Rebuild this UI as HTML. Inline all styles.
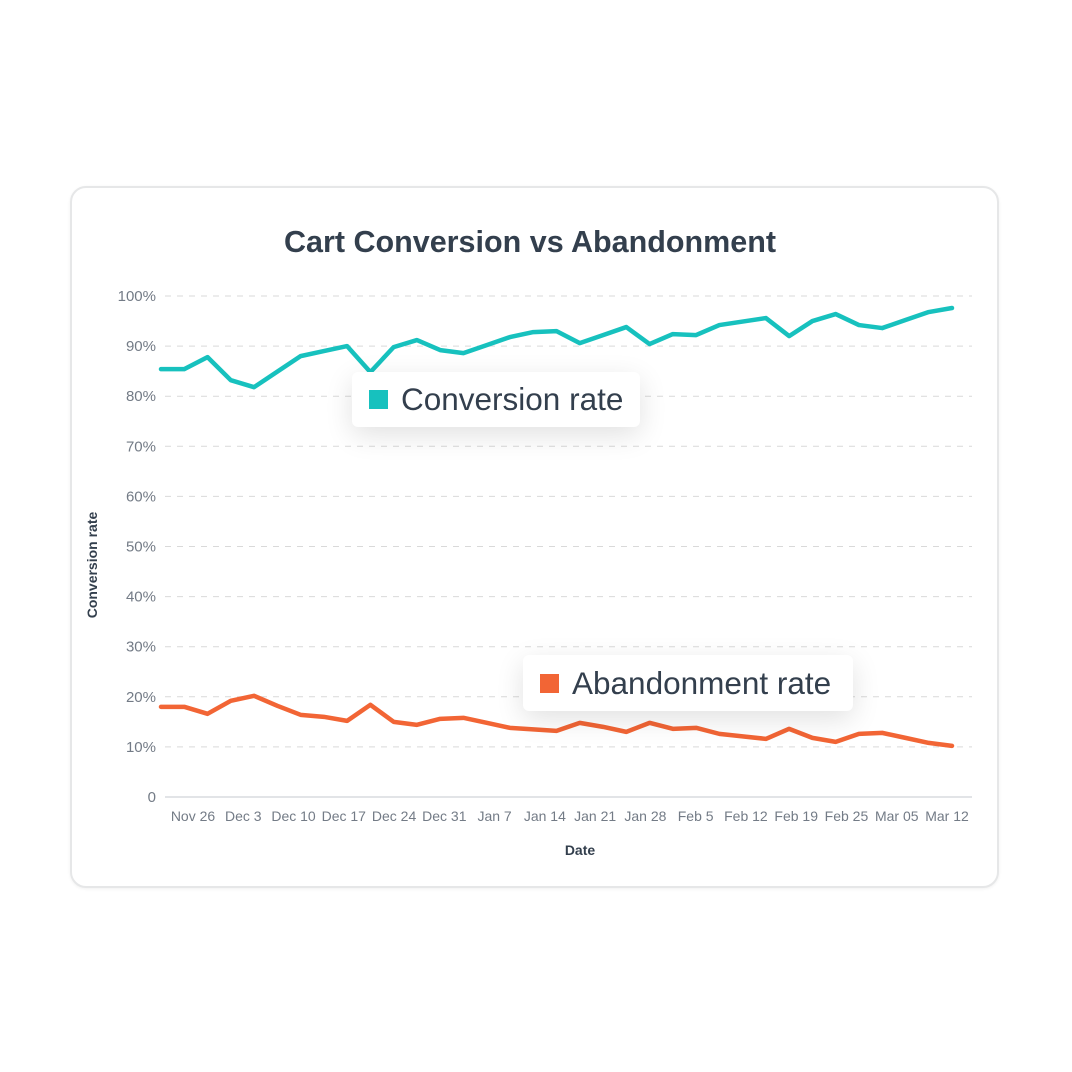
<!DOCTYPE html>
<html><head><meta charset="utf-8"><style>
body{margin:0;width:1072px;height:1072px;background:#fff;font-family:"Liberation Sans",sans-serif;position:relative;overflow:hidden}
#card{position:absolute;left:70px;top:186px;width:925px;height:698px;border:2px solid #e6e7e8;border-radius:16px;background:#fff;box-shadow:0 1px 3px rgba(0,0,0,0.06)}
.leg{position:absolute;background:#fff;border-radius:6px;box-shadow:0 8px 28px rgba(0,0,0,0.12);color:#333f4d;font-size:31.5px;display:flex;align-items:center}
.sq{width:19px;height:19px;margin:0 13px 0 17px}
</style></head><body>
<div id="card"></div>
<svg id="chart" width="1072" height="1072" style="position:absolute;left:0;top:0">
<text x="530" y="252" text-anchor="middle" font-size="30.5" font-weight="bold" fill="#333f4d">Cart Conversion vs Abandonment</text>
<g id="grid"></g><g id="yt"></g><g id="xt"></g><g id="lines"></g>
<text transform="translate(97,565) rotate(-90)" text-anchor="middle" font-size="14" font-weight="bold" fill="#333f4d">Conversion rate</text>
<text x="580" y="855" text-anchor="middle" font-size="14" font-weight="bold" fill="#333f4d">Date</text>
</svg>
<div class="leg" style="left:352px;top:372px;width:288px;height:55px"><div class="sq" style="background:#17c1be"></div>Conversion rate</div>
<div class="leg" style="left:523px;top:655px;width:330px;height:56px"><div class="sq" style="background:#f26535"></div>Abandonment rate</div>
<script>
const conversion=[85.4,85.4,87.8,83.2,81.8,84.9,88.0,89.0,90.0,84.8,89.8,91.2,89.2,88.6,90.2,91.8,92.8,93.0,90.6,92.2,93.8,90.4,92.4,92.2,94.2,94.9,95.6,92.0,95.0,96.4,94.2,93.6,95.2,96.8,97.6];
const abandonment=[18.0,18.0,16.6,19.2,20.2,18.2,16.4,16.0,15.2,18.4,15.0,14.4,15.6,15.8,14.8,13.8,13.5,13.2,14.8,14.0,13.0,14.8,13.6,13.8,12.6,12.1,11.6,13.6,11.8,11.0,12.6,12.8,11.8,10.8,10.2];
const yTicks=[0,10,20,30,40,50,60,70,80,90,100];
const xLabels=["Nov 26","Dec 3","Dec 10","Dec 17","Dec 24","Dec 31","Jan 7","Jan 14","Jan 21","Jan 28","Feb 5","Feb 12","Feb 19","Feb 25","Mar 05","Mar 12"];
const NS="http://www.w3.org/2000/svg";
const X0=161,X1=952,Y0=797,Y1=296;
function xs(i){return X0+(X1-X0)*i/(conversion.length-1);}
function ys(v){return Y0-(Y0-Y1)*v/100;}
function mk(t,a,p){const e=document.createElementNS(NS,t);for(const k in a)e.setAttribute(k,a[k]);p.appendChild(e);return e;}
const grid=document.getElementById('grid'),yt=document.getElementById('yt'),xt=document.getElementById('xt'),lines=document.getElementById('lines');
yTicks.forEach(v=>{
  const l=mk('line',{x1:165,x2:972,y1:ys(v),y2:ys(v),stroke:v===0?'#e2e4e7':'#d9d9d9','stroke-width':v===0?2:1,'stroke-dasharray':v===0?'none':'6,6'},grid);
  
  
  const t=mk('text',{x:156,y:ys(v)+5,'text-anchor':'end','font-size':15,fill:'#737b86'},yt);
  t.textContent=v===0?'0':v+'%';
  
  
});
const xc0=193,xc1=947;
xLabels.forEach((s,i)=>{
  const t=mk('text',{x:xc0+(xc1-xc0)*i/(xLabels.length-1),y:821,'text-anchor':'middle','font-size':14,fill:'#737b86'},xt);
  t.textContent=s;
  
  
});
function line(d,c,n){
  const p=mk('polyline',{points:d.map((v,i)=>xs(i)+','+ys(v)).join(' '),fill:'none',stroke:c,'stroke-width':4.5,'stroke-linejoin':'round','stroke-linecap':'round'},lines);
  
  
}
line(conversion,'#17c1be','conversion-line');
line(abandonment,'#f26535','abandonment-line');
</script>
</body></html>
